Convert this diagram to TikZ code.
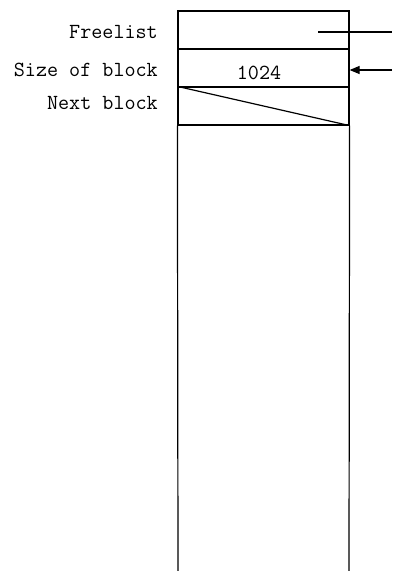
\documentclass[tikz,border=0pt]{standalone}
\usepackage{fontspec}
\usetikzlibrary{arrows.meta}
\begin{document}
\begin{tikzpicture}[x=1pt,y=-1pt,
  cell/.style={draw,line width=1.2pt,minimum width=171pt,minimum height=38pt,inner sep=0pt},
  txt/.style={inner sep=0pt,font=\fontsize{21.5}{23}\ttfamily},
  lbl/.style={txt,anchor=east},
  wire/.style={line width=1.2pt}]
\useasboundingbox (0,0) rectangle (392,571);
\node[cell] (free) at (263.5,30) {};
\node[cell] (size) at (263.5,68) {};
\node[cell] (next) at (263.5,106) {};
\node[txt] (val) at (259,73) {1024};
\node[lbl] (lfree) at (158,32) {Freelist};
\node[lbl] (lsize) at (158,70) {Size of block};
\node[lbl] (lnext) at (158,103) {Next block};
\draw[wire] (next.north west) -- (next.south east);
\coordinate (fstart) at (318,32);
\coordinate (fend) at (392,32);
\draw[wire] (fstart) -- (fend);
\coordinate (astart) at (392,70);
\draw[wire,-{Triangle[length=10pt,width=8pt]}] (astart) -- (size.east |- astart);
\coordinate (bl) at (178,571);
\coordinate (br) at (349,571);
\draw[wire] (next.south west) -- (bl);
\draw[wire] (next.south east) -- (br);
\end{tikzpicture}
\end{document}
